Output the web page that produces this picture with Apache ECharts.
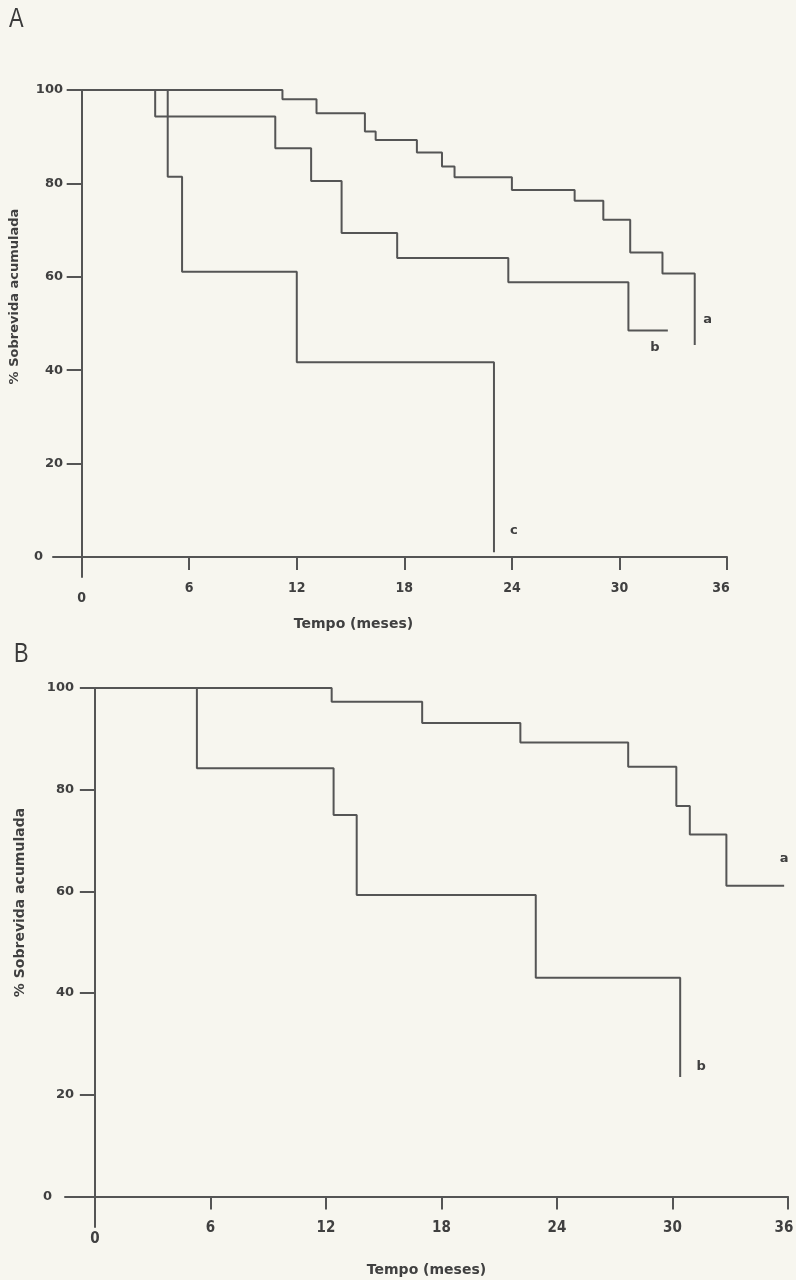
<!DOCTYPE html>
<html>
<head>
<meta charset="utf-8">
<script src="https://cdn.jsdelivr.net/npm/echarts@6.0.0/dist/echarts.min.js"></script>
<style>
html,body{margin:0;padding:0;background:#f7f6ef;}
#c{width:796px;height:1280px;}
</style>
</head>
<body>
<div id="c"></div>
<script>
// ---- Data ----
// Panel A: Kaplan–Meier steps [month, % survival after the event]
const panelA_a = [[0,100],[11.2,98.0],[13.1,95.0],[15.8,91.1],[16.4,89.3],[18.7,86.6],[20.1,83.6],[20.8,81.3],[24.0,78.6],[27.5,76.3],[29.1,72.2],[30.6,65.2],[32.4,60.7],[34.2,45.4]];
const panelA_b = [[0,100],[4.1,94.3],[10.8,87.5],[12.8,80.5],[14.5,69.4],[17.6,64.0],[23.8,58.8],[30.5,48.5],[32.7,48.5]];
const panelA_c = [[0,100],[4.8,81.4],[5.6,61.1],[12.0,41.7],[23.0,1]];
// Panel B
const panelB_a = [[0,100],[12.3,97.3],[17.0,93.1],[22.1,89.3],[27.7,84.5],[30.2,76.8],[30.9,71.2],[32.8,61.1],[35.8,61.1]];
const panelB_b = [[0,100],[5.3,84.2],[12.4,75.0],[13.6,59.3],[22.9,43.0],[30.4,23.5]];
// Tick labels
const xTicks = [0,6,12,18,24,30,36];
const yTicks = [0,20,40,60,80,100];
const panelLetters = ['A','B'];
const xName = 'Tempo (meses)';
const yName = '% Sobrevida acumulada';

const INK = '#404040';
const LINE = '#555555';
const FB = '"DejaVu Sans", sans-serif';
const FC = '"DejaVu Sans Condensed", "Liberation Sans Narrow", "DejaVu Sans", sans-serif';

function xAxisCfg(grid, min, fs, margin, zeroPad, endPad, nameGap, namePad) {
  const base = {color:INK, fontFamily:FC, fontWeight:'bold', fontSize:fs};
  return {
    type:'value', gridIndex:grid, min:min, max:36,
    axisLine:{show:true, onZero:true, lineStyle:{color:LINE, width:2}},
    axisTick:{show:true, customValues:xTicks, length:13, lineStyle:{color:LINE, width:2}},
    axisLabel:Object.assign({show:true, customValues:xTicks, margin:margin,
      formatter:function(v){ return v===0 ? '{z|0}' : (v===36 ? '{e|36}' : String(v)); },
      rich:{z:Object.assign({padding:[zeroPad,0,0,0]}, base), e:Object.assign({padding:[0,endPad,0,0]}, base)}}, base),
    splitLine:{show:false},
    name:xName, nameLocation:'middle', nameGap:nameGap,
    nameTextStyle:{color:INK, fontFamily:FB, fontWeight:'bold', fontSize:14, padding:namePad}
  };
}
function yAxisCfg(grid, min, margin, zeroPad, nameGap, namePad, nfs) {
  return {
    type:'value', gridIndex:grid, min:min, max:100,
    axisLine:{show:true, onZero:true, lineStyle:{color:LINE, width:2}},
    axisTick:{show:true, customValues:yTicks, length:15, lineStyle:{color:LINE, width:2}},
    axisLabel:{show:true, customValues:yTicks, margin:margin, color:INK, fontFamily:FB, fontWeight:'bold', fontSize:13,
      formatter:function(v){ return v===0 ? '{z|0}' : String(v); },
      rich:{z:{padding:[0,zeroPad,0,0], color:INK, fontFamily:FB, fontWeight:'bold', fontSize:13}}},
    splitLine:{show:false},
    name:yName, nameLocation:'middle', nameGap:nameGap,
    nameTextStyle:{color:INK, fontFamily:FB, fontWeight:'bold', fontSize:nfs, padding:namePad}
  };
}
function km(name, data, xi, yi, va, pad) {
  return {
    type:'line', name:name, data:data, step:'end', xAxisIndex:xi, yAxisIndex:yi,
    showSymbol:false, symbol:'none', lineStyle:{color:LINE, width:2},
    endLabel:{show:true, formatter:'{a}', distance:0, align:'center', verticalAlign:va,
      color:INK, fontFamily:FB, fontWeight:'bold', fontSize:13, padding:pad},
    silent:true
  };
}

const chart = echarts.init(document.getElementById('c'), null, {renderer:'canvas'});
chart.setOption({
  animation:false,
  backgroundColor:'#f7f6ef',
  graphic:[
    {type:'text', left:9, top:5, scaleX:0.78, style:{text:panelLetters[0], font:'28px "Liberation Sans", sans-serif', fill:'#3a3a3a'}},
    {type:'text', left:14, top:640, scaleX:0.78, style:{text:panelLetters[1], font:'28px "Liberation Sans", sans-serif', fill:'#3a3a3a'}}
  ],
  grid:[
    {left:53, right:69, top:90, bottom:703, outerBoundsMode:'none', containLabel:false},
    {left:65, right:8, top:688, bottom:53, outerBoundsMode:'none', containLabel:false}
  ],
  xAxis:[ xAxisCfg(0, -1.6, 14, 4, 10, 12, 40, [0,73,0,0]), xAxisCfg(1, -1.55, 15, -6, 11, 8, 36, [0,0,0,0]) ],
  yAxis:[ yAxisCfg(0, -4.3, -10, 20, 32, [0,0,0,74], 13), yAxisCfg(1, -6, -9, 22, 38, [0,0,0,110], 14) ],
  series:[
    km('a', panelA_a, 0, 0, 'bottom', [0,0,19,26]),
    km('b', panelA_b, 0, 0, 'top', [11,26,0,0]),
    km('c', panelA_c, 0, 0, 'bottom', [0,0,15,40]),
    km('a', panelB_a, 1, 1, 'bottom', [0,0,21,0]),
    km('b', panelB_b, 1, 1, 'bottom', [0,0,4,42])
  ]
});
</script>
</body>
</html>
